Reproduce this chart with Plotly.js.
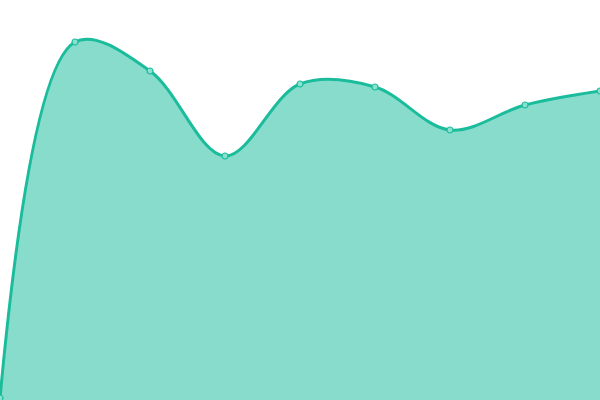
<!DOCTYPE html>
<html>
<head>
<meta charset="utf-8">
<script src="https://cdn.plot.ly/plotly-3.0.1.min.js"></script>
<style>
  html, body { margin: 0; padding: 0; background: #ffffff; }
  #chart { width: 600px; height: 400px; }
</style>
</head>
<body>
<div id="chart"></div>
<script>
// Series
const steps = [0, 1, 2, 3, 4, 5, 6, 7, 8];
const values = [2, 358, 329, 244, 316, 313, 270, 295, 309];

const lineColor = '#1abc9c';

const trace = {
    x: steps,
    y: values,
    type: 'scatter',
    mode: 'lines+markers',
    fill: 'tozeroy',
    fillcolor: 'rgba(26,188,156,0.52)',
    line: { color: lineColor, width: 3, shape: 'spline', smoothing: 1 },
    marker: {
        size: 6,
        color: '#8ce0cf',
        line: { color: lineColor, width: 1.2 }
    },
    hoverinfo: 'none'
};

const layout = {
    width: 600,
    height: 400,
    margin: { t: 0, b: 0, l: 0, r: 0 },
    paper_bgcolor: '#ffffff',
    plot_bgcolor: '#ffffff',
    showlegend: false,
    xaxis: { range: [0, 8], visible: false, fixedrange: true },
    yaxis: { range: [0, 400], visible: false, fixedrange: true }
};

Plotly.newPlot('chart', [trace], layout, { displayModeBar: false, staticPlot: true });
</script>
</body>
</html>
